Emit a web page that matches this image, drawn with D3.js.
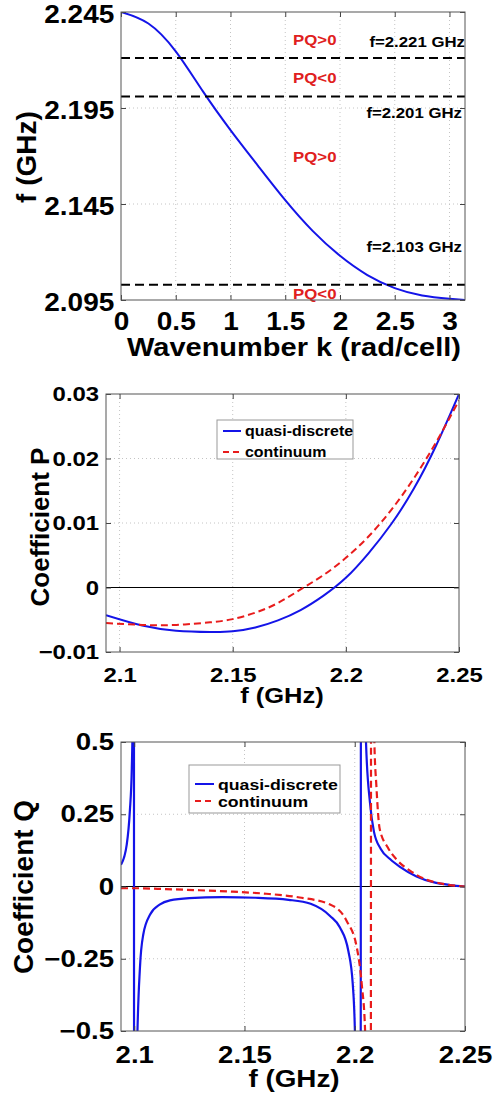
<!DOCTYPE html>
<html lang="en">
<head>
<meta charset="utf-8">
<title>Dispersion, coefficients P and Q</title>
<script src="https://cdn.jsdelivr.net/npm/d3@7"></script>
<style>
  body { margin: 0; background: #fff; }
  svg { display: block; font-family: "Liberation Sans", Arial, sans-serif; font-weight: bold; }
  .grid line { stroke: #c4c4c4; stroke-width: 1; stroke-dasharray: 1,3; }
  .axis line { stroke: #444; }
  .frame { fill: none; stroke: #555; stroke-width: 1; }
</style>
</head>
<body>
<div id="chart"></div>
<script>
// ---- data ----
var kTicks = [0, 0.5, 1, 1.5, 2, 2.5, 3];
var fTicksTop = [2.095, 2.145, 2.195, 2.245];
var fTicks = [2.1, 2.15, 2.2, 2.25];
var pTicks = [-0.01, 0, 0.01, 0.02, 0.03];
var qTicks = [-0.5, -0.25, 0, 0.25, 0.5];

// dispersion curve f(k)
var dispersion = [[0, 2.245], [0.25, 2.239], [0.5, 2.2245], [0.75, 2.2035], [1, 2.1835], [1.25, 2.165],
  [1.5, 2.147], [1.75, 2.131], [2, 2.118], [2.25, 2.108], [2.5, 2.1012], [2.75, 2.0974],
  [3, 2.0957], [Math.PI, 2.095]];
var cutoffs = [2.221, 2.201, 2.103];
var regionNames = ["PQ>0", "PQ<0", "PQ>0", "PQ<0"];
var regionF = [2.2278, 2.208, 2.1669, 2.0955];
var regionK = 1.77;

// coefficient P
var pQuasi = [[2.094, -0.0043], [2.11, -0.0059], [2.125, -0.0067], [2.14, -0.0069], [2.15, -0.0068],
  [2.16, -0.0062], [2.17, -0.0051], [2.18, -0.0035], [2.19, -0.0013], [2.2, 0.0015],
  [2.21, 0.0053], [2.22, 0.0098], [2.23, 0.0153], [2.24, 0.0221], [2.25, 0.030]];
var pCont = [[2.094, -0.0055], [2.11, -0.0058], [2.125, -0.0058], [2.14, -0.0054], [2.15, -0.0049],
  [2.16, -0.0039], [2.17, -0.0024], [2.18, -0.0003], [2.19, 0.0019], [2.2, 0.0046], [2.21, 0.0079],
  [2.22, 0.012], [2.23, 0.0169], [2.24, 0.0226], [2.25, 0.029]];

// coefficient Q (values past +-0.5 run off the axes, as in the figure)
var qQuasi = [[2.094, 0.075], [2.0966, 0.145], [2.098, 0.26], [2.0989, 0.41], [2.0993, 0.6], [2.0998, 3],
  [2.1, -3], [2.1012, -0.6], [2.1026, -0.28], [2.1041, -0.166], [2.1072, -0.097], [2.1117, -0.062],
  [2.1162, -0.048], [2.125, -0.040], [2.14, -0.037], [2.155, -0.039], [2.17, -0.046], [2.18, -0.060],
  [2.1888, -0.102], [2.1933, -0.142], [2.1971, -0.223], [2.1991, -0.338], [2.2001, -0.51], [2.2025, -3],
  [2.203, 3], [2.2051, 0.5], [2.2069, 0.29], [2.2087, 0.19], [2.2118, 0.13], [2.216, 0.095],
  [2.2205, 0.068], [2.228, 0.035], [2.2356, 0.015], [2.2432, 0.005], [2.25, 0]];
var qCont = [[2.094, -0.006], [2.1, -0.006], [2.1144, -0.009], [2.1295, -0.013], [2.1447, -0.018],
  [2.1598, -0.025], [2.175, -0.038], [2.1888, -0.062], [2.1964, -0.12], [2.2009, -0.21], [2.2032, -0.34],
  [2.2047, -0.5], [2.2071, -3], [2.2076, 3], [2.2089, 0.5], [2.2098, 0.35], [2.2113, 0.2], [2.215, 0.135],
  [2.219, 0.093], [2.225, 0.055], [2.232, 0.025], [2.24, 0.009], [2.25, 0]];

var legendNames = ["quasi-discrete", "continuum"];

// ---- drawing ----
var blue = "#1414e8", red = "#e81c1c";
var fmt = d3.format("~g");
var clipCount = 0;

var svg = d3.select("#chart").append("svg")
    .attr("width", 495)
    .attr("height", 1100);

function stretchText(g, txt, x, y, size, anchor, sx) {
  return g.append("text")
      .attr("transform", "translate(" + x + "," + y + ") scale(" + sx + ",1)")
      .attr("text-anchor", anchor)
      .style("font-size", size + "px")
      .text(txt);
}

function vText(g, txt, x, y, size) {
  return g.append("text")
      .attr("transform", "translate(" + x + "," + y + ") rotate(-90)")
      .attr("text-anchor", "middle")
      .style("font-size", size + "px")
      .text(txt);
}

function panel(box, xDomain, yDomain, curveType) {
  var x = d3.scaleLinear().domain(xDomain).range([box.left, box.right]);
  var y = d3.scaleLinear().domain(yDomain).range([box.bottom, box.top]);
  var g = svg.append("g");
  var id = "clip" + (clipCount++);
  g.append("clipPath").attr("id", id).append("rect")
      .attr("x", box.left).attr("y", box.top)
      .attr("width", box.right - box.left).attr("height", box.bottom - box.top);
  var p = { g: g, x: x, y: y, box: box, clip: "url(#" + id + ")" };
  p.line = d3.line()
      .x(function(d) { return x(d[0]); })
      .y(function(d) { return y(d[1]); })
      .curve(curveType);
  return p;
}

function grid(p, xt, yt) {
  var gg = p.g.append("g").attr("class", "grid");
  gg.selectAll(".gv").data(xt).enter().append("line")
      .attr("x1", p.x).attr("x2", p.x)
      .attr("y1", p.box.top).attr("y2", p.box.bottom);
  gg.selectAll(".gh").data(yt).enter().append("line")
      .attr("y1", p.y).attr("y2", p.y)
      .attr("x1", p.box.left).attr("x2", p.box.right);
}

function axes(p, xt, yt, size, sx, padB, dyL) {
  var b = p.box;
  var noDomain = function(s) { s.select(".domain").remove(); };
  var gb = p.g.append("g").attr("class", "axis").attr("transform", "translate(0," + b.bottom + ")")
      .call(d3.axisBottom(p.x).tickValues(xt).tickFormat(fmt).tickSizeInner(-5).tickSizeOuter(0).tickPadding(padB))
      .call(noDomain);
  var gl = p.g.append("g").attr("class", "axis").attr("transform", "translate(" + b.left + ",0)")
      .call(d3.axisLeft(p.y).tickValues(yt).tickFormat(fmt).tickSizeInner(-5).tickSizeOuter(0).tickPadding(6))
      .call(noDomain);
  p.g.append("g").attr("class", "axis").attr("transform", "translate(0," + b.top + ")")
      .call(d3.axisTop(p.x).tickValues(xt).tickFormat("").tickSizeInner(-5).tickSizeOuter(0))
      .call(noDomain);
  p.g.append("g").attr("class", "axis").attr("transform", "translate(" + b.right + ",0)")
      .call(d3.axisRight(p.y).tickValues(yt).tickFormat("").tickSizeInner(-5).tickSizeOuter(0))
      .call(noDomain);
  [gb, gl].forEach(function(a) {
    a.selectAll("text")
        .attr("fill", "#000")
        .style("font-family", "Liberation Sans, Arial, sans-serif")
        .style("font-weight", "bold")
        .style("font-size", size + "px")
        .attr("transform", "scale(" + sx + ",1)");
  });
  if (dyL) gl.selectAll("text").attr("dy", dyL);
  p.g.append("rect").attr("class", "frame")
      .attr("x", b.left).attr("y", b.top)
      .attr("width", b.right - b.left).attr("height", b.bottom - b.top);
}

function zeroLine(p) {
  p.g.append("line")
      .attr("x1", p.box.left).attr("x2", p.box.right)
      .attr("y1", p.y(0)).attr("y2", p.y(0))
      .attr("stroke", "#000").attr("stroke-width", 1);
}

function curve(p, data, color, dash, w) {
  p.g.append("path")
      .datum(data)
      .attr("clip-path", p.clip)
      .attr("d", p.line)
      .attr("fill", "none")
      .attr("stroke", color)
      .attr("stroke-width", w)
      .attr("stroke-dasharray", dash);
}

function legend(p, x0, y0, w, h, rowY, sampleW, size) {
  var lg = p.g.append("g");
  lg.append("rect").attr("x", x0).attr("y", y0).attr("width", w).attr("height", h)
      .attr("fill", "#fff").attr("stroke", "#999").attr("stroke-width", 1);
  var styles = [[blue, null], [red, "6,4"]];
  legendNames.forEach(function(name, i) {
    var yy = y0 + rowY[i];
    lg.append("line").attr("x1", x0 + 6).attr("x2", x0 + 6 + sampleW)
        .attr("y1", yy).attr("y2", yy)
        .attr("stroke", styles[i][0]).attr("stroke-width", 2)
        .attr("stroke-dasharray", styles[i][1]);
    stretchText(lg, name, x0 + 10 + sampleW, yy + size * 0.36, size, "start", 1.14);
  });
}

// panel 1: dispersion
var p1 = panel({ left: 121, right: 465, top: 12, bottom: 300 }, [0, Math.PI], [2.095, 2.245], d3.curveNatural);
grid(p1, kTicks.slice(1), fTicksTop.slice(1, 3));
curve(p1, dispersion, blue, null, 2);
var cutOffset = [-11, 21.5, -33];
var cutRight = [465, 462, 462];
cutoffs.forEach(function(c, i) {
  p1.g.append("line")
      .attr("x1", p1.box.left).attr("x2", p1.box.right)
      .attr("y1", p1.y(c)).attr("y2", p1.y(c))
      .attr("stroke", "#000").attr("stroke-width", 2).attr("stroke-dasharray", "9,5");
  stretchText(p1.g, "f=" + c.toFixed(3) + " GHz", cutRight[i], p1.y(c) + cutOffset[i], 15, "end", 1.12);
});
regionNames.forEach(function(n, i) {
  stretchText(p1.g, n, p1.x(regionK), p1.y(regionF[i]), 15, "middle", 1.12).attr("fill", "#e02020");
});
axes(p1, kTicks, fTicksTop, 25, 1.12, 12, "0.42em");
stretchText(p1.g, "Wavenumber k (rad/cell)", 294, 356, 25, "middle", 1.16);
vText(p1.g, "f (GHz)", 36, 157, 28);

// panel 2: coefficient P
var p2 = panel({ left: 106, right: 459, top: 394, bottom: 652 }, [2.094, 2.25], [-0.01, 0.03], d3.curveNatural);
grid(p2, fTicks.slice(0, 3), pTicks.slice(1, 4));
zeroLine(p2);
curve(p2, pQuasi, blue, null, 2);
curve(p2, pCont, red, "7,4", 2);
axes(p2, fTicks, pTicks, 21, 1.14, 15);
legend(p2, 217, 420, 136, 39, [11, 32], 18, 14);
stretchText(p2.g, "f (GHz)", 282, 703, 22, "middle", 1.16);
vText(p2.g, "Coefficient P", 49, 527, 26);

// panel 3: coefficient Q
var p3 = panel({ left: 121, right: 465, top: 742, bottom: 1031 }, [2.094, 2.25], [-0.5, 0.5], d3.curveMonotoneX);
grid(p3, fTicks.slice(0, 3), [-0.25, 0.25]);
zeroLine(p3);
curve(p3, qQuasi, blue, null, 2.2);
curve(p3, qCont, red, "7,4", 2.2);
axes(p3, fTicks, qTicks, 24, 1.15, 15);
legend(p3, 189, 765, 151, 48, [19, 36], 19, 15.5);
stretchText(p3.g, "f (GHz)", 294, 1087, 24, "middle", 1.16);
vText(p3.g, "Coefficient Q", 33, 887, 28);
</script>
</body>
</html>
